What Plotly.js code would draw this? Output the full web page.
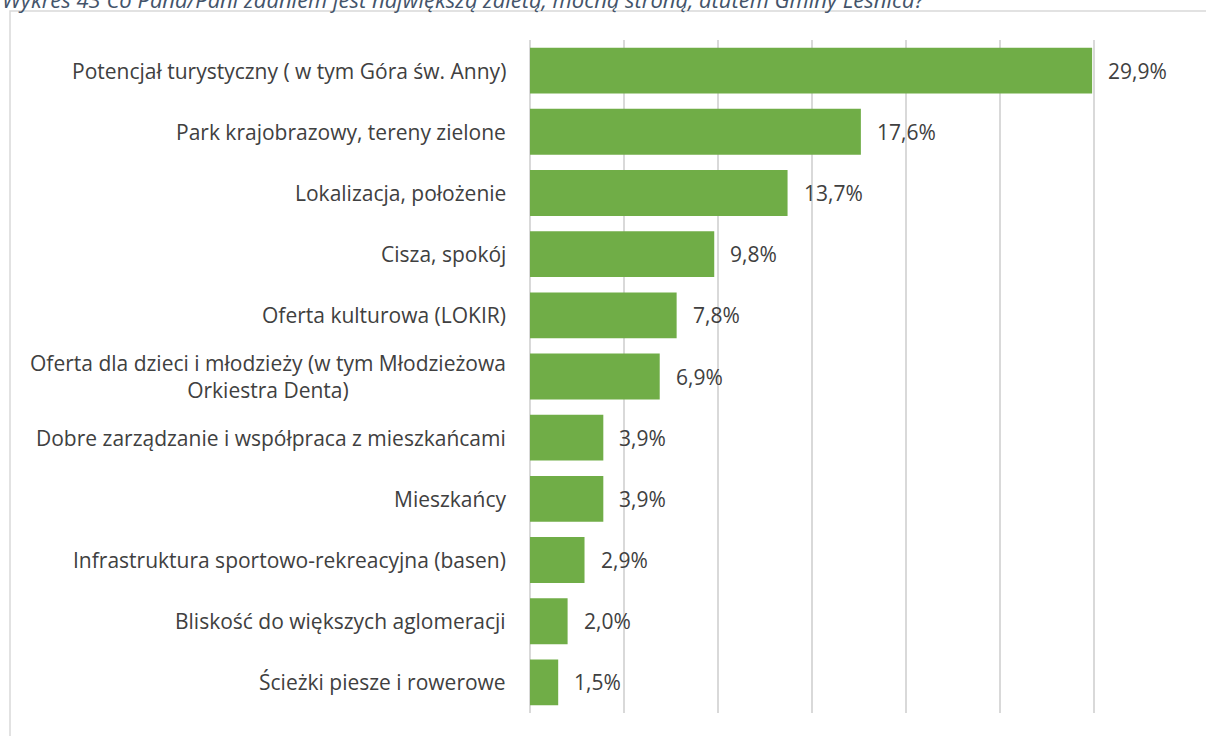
<!DOCTYPE html>
<html>
<head>
<meta charset="utf-8">
<script src="https://cdn.plot.ly/plotly-3.0.1.min.js"></script>
<style>html,body{margin:0;padding:0;background:#fff;overflow:hidden}</style>
</head>
<body>
<div id="chart" style="width:1206px;height:736px"></div>
<script>
const titleText = "Wykres 43 Co Pana/Pani zdaniem jest największą zaletą, mocną stroną, atutem Gminy Leśnica?";
const categories = [
  "Potencjał turystyczny ( w tym Góra św. Anny)",
  "Park krajobrazowy, tereny zielone",
  "Lokalizacja, położenie",
  "Cisza, spokój",
  "Oferta kulturowa (LOKIR)",
  "Oferta dla dzieci i młodzieży (w tym Młodzieżowa<br>Orkiestra Denta)",
  "Dobre zarządzanie i współpraca z mieszkańcami",
  "Mieszkańcy",
  "Infrastruktura sportowo-rekreacyjna (basen)",
  "Bliskość do większych aglomeracji",
  "Ścieżki piesze i rowerowe"
];
const values = [29.9, 17.6, 13.7, 9.8, 7.8, 6.9, 3.9, 3.9, 2.9, 2.0, 1.5];
const valueLabels = values.map(v => v.toFixed(1).replace('.', ',') + '%');

const W = 1206, H = 736;
const M = {l: 530, r: 18, t: 40, b: 23};
const pw = W - M.l - M.r, ph = H - M.t - M.b;
const px = x => (x - M.l) / pw;
const py = y => 1 - (y - M.t) / ph;

const font = "'Open Sans', sans-serif";
const textColor = "#404040";

const trace = {
  type: 'bar',
  orientation: 'h',
  x: values,
  y: categories,
  marker: {color: '#70AD47'},
  hoverinfo: 'none'
};

const annotations = [];
categories.forEach((c, i) => {
  annotations.push({
    xref: 'paper', yref: 'y', x: 0, y: c,
    xanchor: 'right', yanchor: 'middle', xshift: -22,
    text: c, showarrow: false, align: 'center',
    font: {family: font, size: 21, color: textColor}
  });
  annotations.push({
    xref: 'x', yref: 'y', x: values[i], y: c,
    xanchor: 'left', yanchor: 'middle', xshift: 14,
    text: valueLabels[i], showarrow: false,
    font: {family: font, size: 21, color: textColor}
  });
});
annotations.push({
  xref: 'paper', yref: 'paper', x: px(0), y: 1,
  xanchor: 'left', yanchor: 'middle', yshift: 41,
  text: '<i>' + titleText + '</i>', showarrow: false,
  font: {family: font, size: 22, color: '#44546A'}
});

const layout = {
  width: W, height: H,
  margin: M,
  paper_bgcolor: '#fff', plot_bgcolor: '#fff',
  showlegend: false,
  bargap: 0.25,
  xaxis: {
    range: [0, 35], dtick: 5, tick0: 0,
    showgrid: true, gridcolor: '#D9D9D9', gridwidth: 1.5,
    zeroline: true, zerolinecolor: '#D9D9D9', zerolinewidth: 1.5,
    showticklabels: false, ticks: '', fixedrange: true
  },
  yaxis: {
    type: 'category',
    categoryorder: 'array', categoryarray: categories,
    autorange: 'reversed',
    showticklabels: false, ticks: '', showgrid: false, zeroline: false,
    fixedrange: true
  },
  annotations: annotations,
  shapes: [{
    type: 'rect', xref: 'paper', yref: 'paper', layer: 'below',
    x0: px(10), x1: px(1230), y0: py(760), y1: py(11),
    line: {color: '#D9D9D9', width: 1.5}, fillcolor: 'rgba(0,0,0,0)'
  }]
};

Plotly.newPlot('chart', [trace], layout, {displayModeBar: false, staticPlot: true});
</script>
</body>
</html>
